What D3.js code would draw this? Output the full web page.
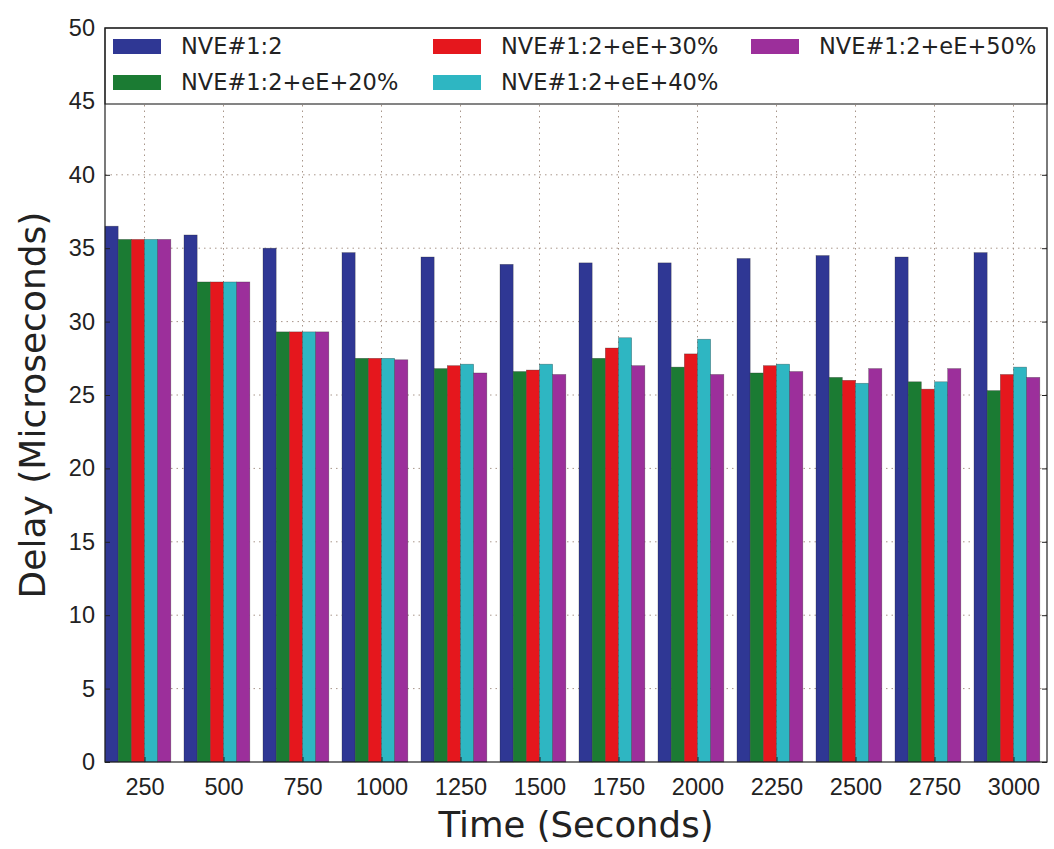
<!DOCTYPE html>
<html>
<head>
<meta charset="utf-8">
<script src="https://cdn.jsdelivr.net/npm/d3@7"></script>
<style>
  html, body { margin: 0; padding: 0; background: #fff; }
  svg { display: block; font-family: "DejaVu Sans", "Open Sans", sans-serif; }
</style>
</head>
<body>
<svg id="chart" width="1054" height="849"></svg>
<script>
// Delay per time step for each NVE configuration
const categories = ["250", "500", "750", "1000", "1250", "1500", "1750", "2000", "2250", "2500", "2750", "3000"];
const seriesNames = ["NVE#1:2", "NVE#1:2+eE+20%", "NVE#1:2+eE+30%", "NVE#1:2+eE+40%", "NVE#1:2+eE+50%"];
const seriesColors = ["#2f3794", "#1b7b33", "#e5171d", "#2eb6c2", "#9c2f9b"];

const nve = [36.5, 35.9, 35.0, 34.7, 34.4, 33.9, 34.0, 34.0, 34.3, 34.5, 34.4, 34.7];
const ee20 = [35.6, 32.7, 29.3, 27.5, 26.8, 26.6, 27.5, 26.9, 26.5, 26.2, 25.9, 25.3];
const ee30 = [35.6, 32.7, 29.3, 27.5, 27.0, 26.7, 28.2, 27.8, 27.0, 26.0, 25.4, 26.4];
const ee40 = [35.6, 32.7, 29.3, 27.5, 27.1, 27.1, 28.9, 28.8, 27.1, 25.8, 25.9, 26.9];
const ee50 = [35.6, 32.7, 29.3, 27.4, 26.5, 26.4, 27.0, 26.4, 26.6, 26.8, 26.8, 26.2];
const yTicks = [0, 5, 10, 15, 20, 25, 30, 35, 40, 45, 50];

const series = [nve, ee20, ee30, ee40, ee50];

const svg = d3.select("#chart");
const plot = { left: 105, right: 1047, top: 28, bottom: 762 };

// Each group occupies one unit; bars are 1/6 unit wide, tick sits at 3 bar widths
const barW = 1 / 6;
const x = d3.scaleLinear()
  .domain([0, (plot.right - plot.left) / 79])
  .range([plot.left, plot.right]);
const y = d3.scaleLinear().domain([0, 50]).range([plot.bottom, plot.top]);

const g = svg.append("g");

// Dotted grid
const gridColor = "#a8968a";
g.append("g").selectAll("line")
  .data(yTicks.slice(1, -1))
  .join("line")
  .attr("x1", plot.left).attr("x2", plot.right)
  .attr("y1", d => y(d)).attr("y2", d => y(d))
  .attr("stroke", gridColor).attr("stroke-width", 1)
  .attr("stroke-dasharray", "1.5,4");
g.append("g").selectAll("line")
  .data(categories)
  .join("line")
  .attr("x1", (d, i) => x(i + 3 * barW)).attr("x2", (d, i) => x(i + 3 * barW))
  .attr("y1", plot.top).attr("y2", plot.bottom)
  .attr("stroke", gridColor).attr("stroke-width", 1)
  .attr("stroke-dasharray", "1.5,4");

// Bars
series.forEach((vals, s) => {
  g.append("g").selectAll("rect")
    .data(vals)
    .join("rect")
    .attr("x", (d, i) => x(i + s * barW))
    .attr("width", x(barW) - x(0))
    .attr("y", d => y(d))
    .attr("height", d => y(0) - y(d))
    .attr("fill", seriesColors[s])
    .attr("stroke", "#222")
    .attr("stroke-opacity", 0.45)
    .attr("stroke-width", 0.6);
});

// Axes with inward ticks
const xTickVals = categories.map((c, i) => i + 3 * barW);
const yAxisL = d3.axisLeft(y).tickValues(yTicks).tickSize(-5).tickPadding(10).tickFormat(d3.format("d"));
const yAxisR = d3.axisRight(y).tickValues(yTicks).tickSize(-5).tickFormat("");
const xAxisB = d3.axisBottom(x).tickValues(xTickVals).tickSize(-5).tickPadding(16)
  .tickFormat((d, i) => categories[i]);
const xAxisT = d3.axisTop(x).tickValues(xTickVals).tickSize(-5).tickFormat("");

function styleAxis(sel) {
  sel.select(".domain").remove();
  sel.selectAll(".tick line").attr("stroke", "#222");
  sel.selectAll(".tick text").attr("fill", "#222").style("font-size", "23.5px");
}
svg.append("g").attr("transform", `translate(${plot.left},0)`).call(yAxisL).call(styleAxis);
svg.append("g").attr("transform", `translate(${plot.right},0)`).call(yAxisR).call(styleAxis);
svg.append("g").attr("transform", `translate(0,${plot.bottom})`).call(xAxisB).call(styleAxis);
svg.append("g").attr("transform", `translate(0,${plot.top})`).call(xAxisT).call(styleAxis);

// Legend
const legend = svg.append("g");
legend.append("rect")
  .attr("x", plot.left).attr("y", plot.top)
  .attr("width", plot.right - plot.left).attr("height", 76)
  .attr("fill", "#fff").attr("stroke", "#333").attr("stroke-width", 1.2);
const legendPos = [
  { px: 113, py: 39 }, { px: 113, py: 75 },
  { px: 433, py: 39 }, { px: 433, py: 75 },
  { px: 751, py: 39 }
];
seriesNames.forEach((name, s) => {
  const p = legendPos[s];
  legend.append("rect")
    .attr("x", p.px).attr("y", p.py).attr("width", 48).attr("height", 15)
    .attr("fill", seriesColors[s]);
  legend.append("text")
    .attr("x", p.px + 68).attr("y", p.py + 15)
    .attr("fill", "#222").style("font-size", "22.5px")
    .text(name);
});

// Plot frame
svg.append("rect")
  .attr("x", plot.left).attr("y", plot.top)
  .attr("width", plot.right - plot.left).attr("height", plot.bottom - plot.top)
  .attr("fill", "none").attr("stroke", "#222").attr("stroke-width", 1.2);

// Axis titles
svg.append("text")
  .attr("x", 576).attr("y", 837)
  .attr("text-anchor", "middle").attr("fill", "#222")
  .style("font-size", "35.5px")
  .text("Time (Seconds)");
svg.append("text")
  .attr("transform", `translate(45,${(plot.top + plot.bottom) / 2 + 10}) rotate(-90)`)
  .attr("text-anchor", "middle").attr("fill", "#222")
  .style("font-size", "36px")
  .text("Delay (Microseconds)");
</script>
</body>
</html>
